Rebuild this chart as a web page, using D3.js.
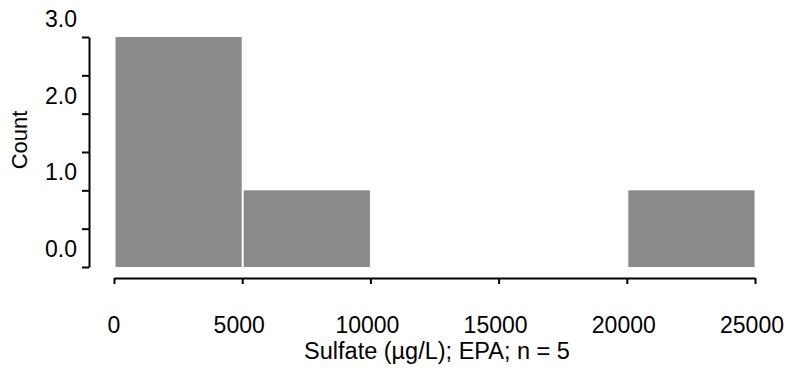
<!DOCTYPE html>
<html>
<head>
<meta charset="utf-8">
<script src="https://cdn.jsdelivr.net/npm/d3@7"></script>
<style>
  body { margin: 0; background: #fff; }
  svg { display: block; }
  text { font-family: "Liberation Sans", Arial, Helvetica, sans-serif; fill: #000; }
</style>
</head>
<body>
<div id="chart"></div>
<script>
// Histogram bins (µg/L) and counts
const binStarts = [0, 5000, 20000];
const binEnds = [5000, 10000, 25000];
const counts = [3, 1, 1];
const xTickValues = [0, 5000, 10000, 15000, 20000, 25000];
const yTickValues = [0, 0.5, 1, 1.5, 2, 2.5, 3];
const yLabelValues = [0, 1, 2, 3];
const xTitle = "Sulfate (\u00b5g/L); EPA; n = 5";
const yTitle = "Count";

const W = 790, H = 376;
const svg = d3.select("#chart").append("svg").attr("width", W).attr("height", H);

const x = d3.scaleLinear().domain([0, 25000]).range([114, 755]);
const y = d3.scaleLinear().domain([0, 3]).range([267, 37]);

const bins = binStarts.map((s, i) => ({ x0: s, x1: binEnds[i], c: counts[i] }));

svg.append("g").selectAll("rect").data(bins).join("rect")
  .attr("x", d => x(d.x0) + 1.5)
  .attr("width", d => x(d.x1) - x(d.x0) - 2)
  .attr("y", d => y(d.c))
  .attr("height", d => y(0) - y(d.c))
  .attr("fill", "#8a8a8a");

// X axis
const gx = svg.append("g").attr("transform", "translate(0,278)")
  .call(d3.axisBottom(x).tickValues(xTickValues).tickSize(6).tickSizeOuter(0).tickFormat(""));
gx.select(".domain").attr("stroke-width", 2);
gx.selectAll(".tick line").attr("stroke-width", 2);

svg.append("g").selectAll("text").data(xTickValues).join("text")
  .attr("x", d => x(d) - (d > 0 ? 3 : 0))
  .attr("y", 333)
  .attr("text-anchor", "middle")
  .attr("font-size", 23)
  .text(d => d3.format("d")(d));

// Y axis
const gy = svg.append("g").attr("transform", "translate(89,0)")
  .call(d3.axisLeft(y).tickValues(yTickValues).tickSize(7).tickSizeOuter(0).tickFormat(""));
gy.select(".domain").attr("stroke-width", 2);
gy.selectAll(".tick line").attr("stroke-width", 2);

svg.append("g").selectAll("text").data(yLabelValues).join("text")
  .attr("x", 77)
  .attr("y", d => y(d) - 10)
  .attr("text-anchor", "end")
  .attr("font-size", 23)
  .text(d => d3.format(".1f")(d));

// Titles
svg.append("text")
  .attr("x", 437).attr("y", 359)
  .attr("text-anchor", "middle")
  .attr("font-size", 23.5)
  .text(xTitle);

svg.append("text")
  .attr("transform", "translate(27,140) rotate(-90)")
  .attr("text-anchor", "middle")
  .attr("font-size", 22)
  .text(yTitle);
</script>
</body>
</html>
